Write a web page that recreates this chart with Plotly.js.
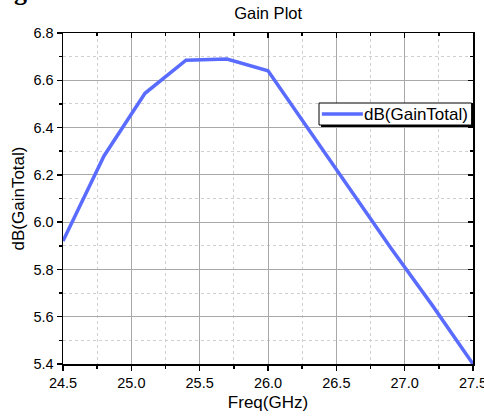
<!DOCTYPE html>
<html>
<head>
<meta charset="utf-8">
<script src="https://cdn.plot.ly/plotly-3.0.1.min.js"></script>
<style>html,body{margin:0;padding:0;background:#fff;}#chart{width:484px;height:420px;}</style>
</head>
<body>
<div id="chart"></div>
<script>
var freq = [24.5, 24.8, 25.1, 25.4, 25.7, 26.0, 26.3, 26.6, 26.9, 27.2, 27.5];
var gainTotal = [5.92, 6.28, 6.545, 6.685, 6.69, 6.64, 6.39, 6.14, 5.89, 5.65, 5.40];
var xTickVals = [24.5, 25.0, 25.5, 26.0, 26.5, 27.0, 27.5];
var yTickVals = [5.4, 5.6, 5.8, 6.0, 6.2, 6.4, 6.6, 6.8];
var seriesName = 'dB(GainTotal)';

var FONT = 'Arial, "Liberation Sans", sans-serif';
var LINE_COLOR = '#5a6cff';

var trace = {
  x: freq, y: gainTotal, type: 'scatter', mode: 'lines', name: seriesName,
  line: {color: LINE_COLOR, width: 3.5},
  showlegend: false
};

var common = {
  showline: true, linecolor: '#000', linewidth: 1.5,
  tickcolor: '#000', tickwidth: 1.5, ticklen: 5,
  zeroline: false
};

// legend box geometry (paper fractions of the plot area)
var lg = {x0: 0.6244, x1: 0.9966, y0: 0.722, y1: 0.7885, sx: 0.005, sy: 0.006};
var lgMid = (lg.y0 + lg.y1) / 2;

var layout = {
  width: 484, height: 420,
  margin: {l: 63, r: 11, t: 33, b: 56},
  paper_bgcolor: '#fff', plot_bgcolor: '#fff',
  font: {family: FONT, color: '#000', size: 14},
  title: {text: 'Gain Plot', font: {family: FONT, size: 16.5, color: '#000'}, x: 0.554, xanchor: 'center', y: 0.968, yanchor: 'middle'},
  showlegend: false,
  xaxis: Object.assign({}, common, {
    range: [24.5, 27.5], tickvals: xTickVals, ticktext: xTickVals.map(function(v){return v.toFixed(1);}),
    ticks: 'outside', showgrid: true, gridcolor: '#a8a8a8', gridwidth: 1,
    ticklabeloverflow: 'allow',
    tickfont: {family: FONT, size: 14.5, color: '#000'},
    title: {text: 'Freq(GHz)', font: {family: FONT, size: 17, color: '#000'}, standoff: 6},
    minor: {dtick: 0.25, ticks: 'outside', ticklen: 3, tickcolor: '#000', tickwidth: 1.5, showgrid: true, gridcolor: '#d0d0d0', griddash: 'dot', gridwidth: 1}
  }),
  yaxis: Object.assign({}, common, {
    range: [5.4, 6.8], tickvals: yTickVals, ticktext: yTickVals.map(function(v){return v.toFixed(1);}),
    ticks: 'outside', showgrid: true, gridcolor: '#a8a8a8', gridwidth: 1,
    tickfont: {family: FONT, size: 14.5, color: '#000'},
    title: {text: 'dB(GainTotal)', font: {family: FONT, size: 17, color: '#000'}, standoff: 4},
    minor: {dtick: 0.1, ticks: 'outside', ticklen: 3, tickcolor: '#000', tickwidth: 1.5, showgrid: true, gridcolor: '#d0d0d0', griddash: 'dot', gridwidth: 1}
  }),
  xaxis2: Object.assign({}, common, {
    overlaying: 'x', side: 'top', anchor: 'y', matches: 'x', range: [24.5, 27.5],
    tickvals: xTickVals, ticks: 'inside', showticklabels: false, showgrid: false,
    minor: {dtick: 0.25, ticks: 'inside', ticklen: 3, tickcolor: '#000', tickwidth: 1.5, showgrid: false}
  }),
  yaxis2: Object.assign({}, common, {
    overlaying: 'y', side: 'right', anchor: 'x', range: [5.4, 6.8],
    tickvals: yTickVals, ticks: 'inside', showticklabels: false, showgrid: false,
    minor: {dtick: 0.1, ticks: 'inside', ticklen: 3, tickcolor: '#000', tickwidth: 1.5, showgrid: false}
  }),
  shapes: [
    {type: 'rect', xref: 'paper', yref: 'paper', x0: lg.x0 + lg.sx, x1: lg.x1 + lg.sx, y0: lg.y0 - lg.sy, y1: lg.y1 - lg.sy,
     fillcolor: '#000', line: {width: 0}, layer: 'above'},
    {type: 'rect', xref: 'paper', yref: 'paper', x0: lg.x0, x1: lg.x1, y0: lg.y0, y1: lg.y1,
     fillcolor: '#fff', line: {color: '#000', width: 1}, layer: 'above'},
    {type: 'line', xref: 'paper', yref: 'paper', x0: lg.x0 + 0.007, x1: lg.x0 + 0.107, y0: lgMid, y1: lgMid,
     line: {color: LINE_COLOR, width: 3.5}, layer: 'above'}
  ],
  annotations: [
    {text: seriesName, xref: 'paper', yref: 'paper', x: lg.x0 + 0.106, y: lgMid, xanchor: 'left', yanchor: 'middle',
     showarrow: false, font: {family: FONT, size: 17, color: '#000'}},
    {text: '<b>g</b>', xref: 'paper', yref: 'paper', x: -0.125, y: 1.125, xanchor: 'left', yanchor: 'middle',
     showarrow: false, font: {family: '"Liberation Serif", "DejaVu Serif", serif', size: 26, color: '#000'}}
  ]
};

var dummy = {x: [24.5, 27.5], y: [5.4, 6.8], xaxis: 'x2', yaxis: 'y2', type: 'scatter', mode: 'none', showlegend: false, hoverinfo: 'skip'};

Plotly.newPlot('chart', [trace, dummy], layout, {displayModeBar: false, staticPlot: true});
</script>
</body>
</html>
